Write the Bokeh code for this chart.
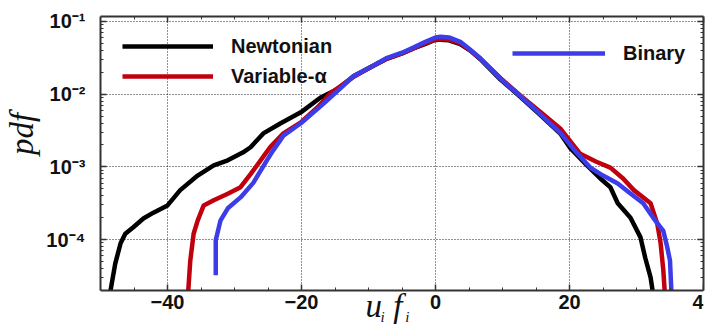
from bokeh.plotting import figure
from bokeh.models import FixedTicker, LinearAxis, LogAxis, Legend, LegendItem, Label, BoxAnnotation
from bokeh.embed import file_html
from bokeh.resources import INLINE

# ---- data (x = u_i f_i, values as log10(pdf)) ----
newt_x = [-48.5, -47.8, -47.0, -46.3, -45.1, -43.6, -42.1, -40.0, -38.1, -35.5, -33.1, -31.0,
          -28.7, -27.6, -25.7, -23.1, -20.1, -17.2, -14.6, -12.2, -9.5, -7.2, -5.0, -3.3, -1.5,
          -0.3, 0.75, 2.0, 3.7, 5.2, 6.7, 9.7, 12.7, 15.7, 18.7, 20.1, 22.5, 24.6, 26.1, 27.2,
          29.1, 30.6, 31.3, 32.1, 32.4]
newt_log = [-4.70, -4.33, -4.05, -3.92, -3.83, -3.71, -3.63, -3.53, -3.32, -3.12, -2.98, -2.91,
            -2.80, -2.73, -2.54, -2.40, -2.25, -2.05, -1.93, -1.75, -1.62, -1.51, -1.44, -1.37, -1.31,
            -1.26, -1.25, -1.26, -1.31, -1.40, -1.52, -1.80, -2.04, -2.29, -2.55, -2.74, -2.97, -3.16,
            -3.28, -3.50, -3.70, -3.97, -4.25, -4.52, -4.70]

var_x = [-36.9, -36.6, -36.1, -35.5, -34.6, -33.1, -31.0, -29.1, -27.6, -25.7, -24.6, -22.7,
         -20.1, -17.6, -15.7, -12.2, -9.5, -7.2, -5.0, -3.3, -1.5, 0.0, 0.75, 2.0, 3.7, 5.2, 6.7,
         9.7, 12.7, 15.7, 18.7, 21.6, 24.0, 26.1, 28.0, 29.6, 32.1, 33.1, 33.6, 34.0, 34.2]
var_log = [-4.70, -4.29, -3.92, -3.74, -3.53, -3.46, -3.37, -3.28, -3.10, -2.86, -2.72, -2.54,
           -2.39, -2.18, -1.99, -1.76, -1.62, -1.51, -1.44, -1.37, -1.30, -1.25, -1.24, -1.25, -1.30,
           -1.40, -1.51, -1.78, -2.02, -2.25, -2.48, -2.82, -2.93, -3.01, -3.16, -3.32, -3.50, -3.78,
           -4.05, -4.42, -4.70]

bin_x = [-32.8, -32.8, -32.1, -31.0, -29.1, -27.2, -25.1, -24.2, -22.7, -20.1, -16.7, -12.2,
         -9.5, -7.2, -5.0, -3.3, -1.5, 0.0, 0.75, 2.0, 3.7, 5.2, 6.7, 9.7, 12.7, 15.7, 18.7, 21.0,
         23.1, 25.0, 27.2, 29.0, 31.0, 32.5, 34.0, 34.6, 35.0, 35.2]
bin_log = [-4.49, -4.01, -3.74, -3.57, -3.42, -3.22, -2.90, -2.77, -2.57, -2.40, -2.13, -1.75,
           -1.62, -1.50, -1.43, -1.36, -1.28, -1.22, -1.21, -1.22, -1.28, -1.39, -1.51, -1.79, -2.03,
           -2.28, -2.54, -2.80, -3.01, -3.12, -3.23, -3.36, -3.50, -3.70, -3.88, -4.11, -4.29, -4.70]

series_names = ["Newtonian", "Variable-\u03b1", "Binary"]
series_colors = ["#000000", "#c0000c", "#3c3ce8"]

x_lim = (-50, 40)
y_lim = (2.0e-5, 0.117)          # extent of the plotted box
x_major = [-40, -20, 0, 20, 40]
x_minor = [-45, -35, -30, -25, -15, -10, -5, 5, 10, 15, 25, 30, 35]
y_major = [1e-4, 1e-3, 1e-2, 1e-1]
y_major_labels = ["10\u207b\u2074", "10\u207b\u00b3", "10\u207b\u00b2", "10\u207b\u00b9"]
y_minor = [k * 10.0 ** e for e in range(-5, -1 + 1) for k in range(2, 10)
           if y_lim[0] <= k * 10.0 ** e <= y_lim[1]]

y_title = "\u00a0" * 9 + "pdf"
# the canvas area under the box (tick labels and x title) is part of the frame,
# so the y range reaches a little below the box's bottom edge
y_frame_bottom = 6.58e-6

p = figure(width=726, height=325, x_range=x_lim, y_range=(y_frame_bottom, y_lim[1]),
           y_axis_type="log", output_backend="svg", toolbar_location=None,
           min_border_left=100, min_border_right=23, min_border_top=16, min_border_bottom=0)
p.background_fill_color = "white"
p.outline_line_color = None

xt = FixedTicker(ticks=x_major, minor_ticks=x_minor)
yt = FixedTicker(ticks=y_major, minor_ticks=y_minor)
p.xaxis.ticker = xt
p.yaxis.ticker = yt
p.xgrid.ticker = xt
p.ygrid.ticker = yt
for g in (p.xgrid, p.ygrid):
    g.grid_line_color = "#222222"
    g.grid_line_dash = "1 2"
    g.grid_line_width = 1

# white band hides the grid below the box
p.add_layout(BoxAnnotation(top=y_lim[0], fill_color="white", fill_alpha=1.0,
                           line_color=None, level="underlay"))

p.yaxis.major_label_overrides = {v: s for v, s in zip(y_major, y_major_labels)}
p.xaxis.fixed_location = y_lim[0]
p.yaxis.bounds = y_lim

top_ax = LinearAxis(ticker=xt)
right_ax = LogAxis(ticker=yt, bounds=y_lim)
p.add_layout(top_ax, "above")
p.add_layout(right_ax, "right")

for ax in p.axis:
    ax.major_tick_in = 6
    ax.major_tick_out = 0
    ax.minor_tick_in = 3
    ax.minor_tick_out = 0
    ax.axis_line_color = "#333333"
    ax.axis_line_width = 2
    ax.major_tick_line_color = "#333333"
    ax.minor_tick_line_color = "#333333"
    ax.major_tick_line_width = 1.5
    ax.minor_tick_line_width = 1
    ax.major_label_text_font = "Liberation Sans"
    ax.major_label_text_font_style = "bold"
    ax.major_label_text_font_size = "20px"
    ax.major_label_text_color = "#111111"

for ax in (top_ax, right_ax):
    ax.major_label_text_font_size = "1px"
    ax.major_label_text_alpha = 0
    ax.major_label_standoff = 0

p.xaxis[0].major_label_standoff = 4

ya = p.yaxis[0]
ya.major_label_standoff = 15
ya.axis_label = y_title
ya.axis_label_text_font = "Liberation Serif"
ya.axis_label_text_font_style = "italic"
ya.axis_label_text_font_size = "33px"
ya.axis_label_text_color = "#111111"
ya.axis_label_standoff = 3

renderers = []
for xs, ls, c in zip([newt_x, var_x, bin_x], [newt_log, var_log, bin_log], series_colors):
    ys = [10.0 ** v for v in ls]
    r = p.line(xs, ys, line_color=c, line_width=4.5)
    renderers.append(r)


def make_legend(items, loc, gw, so):
    lg = Legend(items=items, location=loc, padding=0, margin=0, spacing=4,
                glyph_width=gw, glyph_height=26, label_height=26, label_standoff=so,
                border_line_color=None, background_fill_alpha=0,
                label_text_font="Liberation Sans", label_text_font_style="bold",
                label_text_font_size="20px", label_text_color="#111111")
    return lg


leg1 = make_legend([LegendItem(label=series_names[0], renderers=[renderers[0]]),
                    LegendItem(label=series_names[1], renderers=[renderers[1]])], (22, 236), 91, 18)
leg2 = make_legend([LegendItem(label=series_names[2], renderers=[renderers[2]])], (412, 259), 93, 18)
p.add_layout(leg1)
p.add_layout(leg2)

# x title  u_i f_i  (italic serif with subscripts), placed under the box
serif = dict(text_font="Liberation Serif", text_font_style="italic", text_color="#111111",
             text_baseline="bottom")
p.add_layout(Label(x=-10.45, y=7.0e-6, text="u", text_font_size="33px", **serif))
p.add_layout(Label(x=-8.2, y=6.7e-6, text="i", text_font_size="15px", **serif))
p.add_layout(Label(x=-6.3, y=7.0e-6, text="f", text_font_size="33px", **serif))
p.add_layout(Label(x=-4.5, y=6.7e-6, text="i", text_font_size="15px", **serif))

open("out.html", "w").write(file_html(p, INLINE))
